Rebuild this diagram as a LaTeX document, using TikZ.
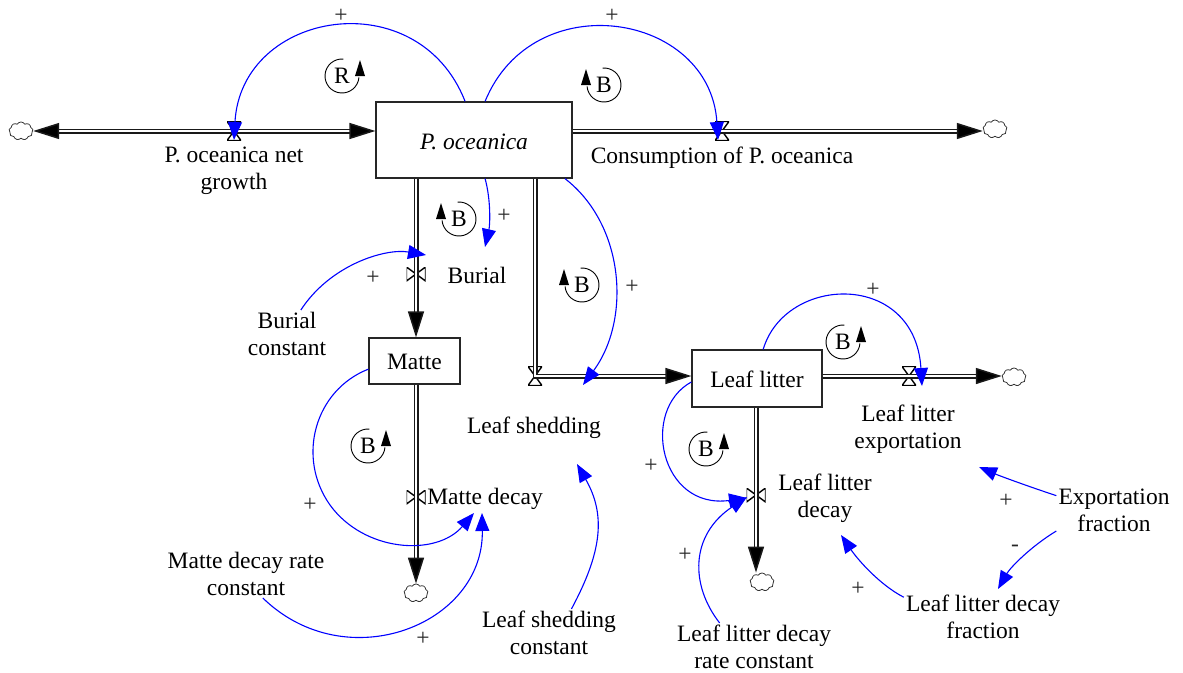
\documentclass[tikz,border=0pt]{standalone}
\usepackage{fontspec}
\setmainfont{Liberation Serif}
\usetikzlibrary{shapes,arrows.meta,positioning}
\definecolor{linkblue}{RGB}{0,0,255}
\tikzstyle{stock} = [draw=black!85, line width=1.2pt, rectangle, inner sep=0pt, text height=18pt]
\tikzstyle{label} = [align=center, inner sep=2pt]
\tikzstyle{sign} = [inner sep=0pt, text=black!85]
\tikzstyle{source} = [draw=black!80, fill=white, thick, shape=cloud, cloud puffs=9, cloud puff arc=120, cloud ignores aspect, inner sep=0pt, minimum width=24pt, minimum height=18pt]
\tikzstyle{flow} = [double=white, double distance=2pt, line width=1.5pt, draw=black!90, >={Triangle[length=26pt,width=16pt,fill=black]}]
\tikzstyle{link} = [draw=linkblue, line width=1.1pt, -{Triangle[length=18pt,width=14pt,fill=linkblue]}]
\tikzstyle{valveh} = [inner sep=0pt, minimum width=19pt, minimum height=14pt, path picture={\draw[line width=1.4pt] (path picture bounding box.north west) -- (path picture bounding box.south east) -- (path picture bounding box.north east) -- (path picture bounding box.south west) -- cycle;}]
\tikzstyle{valvev} = [inner sep=0pt, minimum width=14pt, minimum height=19pt, path picture={\draw[line width=1.4pt] (path picture bounding box.north west) -- (path picture bounding box.north east) -- (path picture bounding box.south west) -- (path picture bounding box.south east) -- cycle;}]
\tikzstyle{loopletter} = [inner sep=0pt]
\newcommand{\rightloop}[4]{%
	\node[loopletter] (#1) at (#2,#3) {#4};
	\draw[line width=0.9pt] ([shift={(85:17pt)}]#1.center) arc[start angle=85,end angle=355,radius=17pt];
	\fill ([shift={(13pt,0pt)}]#1.center) -- ([shift={(18pt,16pt)}]#1.center) -- ([shift={(23pt,0pt)}]#1.center) -- cycle;
}
\newcommand{\leftloop}[4]{%
	\node[loopletter] (#1) at (#2,#3) {#4};
	\draw[line width=0.9pt] ([shift={(95:17pt)}]#1.center) arc[start angle=95,end angle=-175,radius=17pt];
	\fill ([shift={(-13pt,0pt)}]#1.center) -- ([shift={(-18pt,16pt)}]#1.center) -- ([shift={(-23pt,0pt)}]#1.center) -- cycle;
}
\begin{document}
\begin{tikzpicture}[x=1pt,y=-1pt,font=\fontsize{23.5}{27}\selectfont]
	\useasboundingbox (0,0) rectangle (1183,672);
	% stocks
	\node[stock, text height=20pt, minimum width=196pt, minimum height=76pt] (oceanica) at (474,140) {\textit{P. oceanica}};
	\node[stock, minimum width=91pt, minimum height=46pt] (matte) at (414.5,361) {Matte};
	\node[stock, minimum width=130pt, minimum height=57pt] (litter) at (757,378.5) {Leaf litter};
	% clouds
	\node[source] (growthcloud) at (21,131) {};
	\node[source] (consumecloud) at (995,129) {};
	\node[source] (mattecloud) at (416,593) {};
	\node[source] (decaycloud) at (762,582) {};
	\node[source] (exportcloud) at (1014,377) {};
	% valves
	\node[valvev] (growthvalve) at (234,131) {};
	\node[valvev] (consumevalve) at (722,131) {};
	\node[valveh] (burialvalve) at (416,274) {};
	\node[valveh] (mattevalve) at (416,497) {};
	\node[valvev] (shedvalve) at (535,376) {};
	\node[valvev] (exportvalve) at (909,376) {};
	\node[valveh] (decayvalve) at (756,495) {};
	% flows
	\draw[flow,<->] (growthcloud.east |- growthvalve) -- (oceanica.west |- growthvalve);
	\draw[flow,->] (oceanica.east |- consumevalve) -- (consumecloud.west |- consumevalve);
	\draw[flow,->] (burialvalve |- oceanica.south) -- (burialvalve |- matte.north);
	\draw[flow,->] (mattevalve |- matte.south) -- (mattevalve |- mattecloud.north);
	\draw[flow,->] (shedvalve |- oceanica.south) -- (shedvalve.center) -- (litter.west |- shedvalve);
	\draw[flow,->] (litter.east |- exportvalve) -- (exportcloud.west |- exportvalve);
	\draw[flow,->] (decayvalve |- litter.south) -- (decayvalve |- decaycloud.north);
	% labels
	\node[label] (growth) at (234,171) {P. oceanica net\\growth};
	\node[label] (consumption) at (722,158) {Consumption of P. oceanica};
	\node[label] (burial) at (477,275) {Burial};
	\node[label] (burialconst) at (287,334) {Burial\\constant};
	\node[label] (mattedecay) at (485,499) {Matte decay};
	\node[label] (matteconst) at (246,574) {Matte decay rate\\constant};
	\node[label] (shedding) at (534,428) {Leaf shedding};
	\node[label] (shedconst) at (549,633) {Leaf shedding\\constant};
	\node[label] (exportation) at (908,429) {Leaf litter\\exportation};
	\node[label] (litterdecay) at (825,498) {Leaf litter\\decay};
	\node[label] (exportfrac) at (1114,510) {Exportation\\fraction};
	\node[label] (decayfrac) at (983,617) {Leaf litter decay\\fraction};
	\node[label] (decayconst) at (754,647) {Leaf litter decay\\rate constant};
	% free ends of the links
	\coordinate (growthin) at (234,140);
	\coordinate (consumein) at (718,140);
	\coordinate (burialin) at (485,247);
	\coordinate (shedin) at (583,385);
	\coordinate (burialvalvein) at (426,255);
	\coordinate (mattein) at (474,513);
	\coordinate (matteconstin) at (482,513);
	\coordinate (exportin) at (922,386);
	\coordinate (decayin) at (747,498);
	\coordinate (decayconstin) at (747,497);
	\coordinate (exportfracin) at (979,467);
	\coordinate (decayfracin) at (998,589);
	\coordinate (litterdecayin) at (841,535);
	\coordinate (shedconstin) at (577,464);
	% links
	\draw[link] (oceanica.103) .. controls (418,-19) and (241,10) .. (growthin);
	\draw[link] (oceanica.74) .. controls (533,-16) and (710,12) .. (consumein);
	\draw[link] (oceanica.-74) .. controls (491,200) and (490,225) .. (burialin);
	\draw[link] (oceanica.-23) .. controls (625,225) and (631,320) .. (shedin);
	\draw[link] (burialconst.60) .. controls (330,265) and (385,248) .. (burialvalvein);
	\draw[link] (matte.190) .. controls (315,390) and (296,457) .. (330,505) .. controls (364,552) and (436,557) .. (mattein);
	\draw[link] (matteconst.-55) .. controls (346,679) and (484,625) .. (matteconstin);
	\draw[link] (litter.78) .. controls (785,275) and (915,270) .. (exportin);
	\draw[link] (litter.183) .. controls (640,410) and (660,510) .. (decayin);
	\draw[link] (decayconst.145) .. controls (690,585) and (690,535) .. (decayconstin);
	\draw[link] (exportfrac.166) .. controls (1030,487) and (1000,476) .. (exportfracin);
	\draw[link] (exportfrac.200) .. controls (1030,547) and (1010,568) .. (decayfracin);
	\draw[link] (decayfrac.166) .. controls (880,585) and (858,560) .. (litterdecayin);
	\draw[link] (shedconst.47) .. controls (602,552) and (606,515) .. (shedconstin);
	% loops
	\rightloop{loopa}{342}{76}{R}
	\leftloop{loopb}{604}{85}{B}
	\leftloop{loopc}{459}{219}{B}
	\leftloop{loopd}{582}{285}{B}
	\rightloop{loope}{843}{342}{B}
	\rightloop{loopf}{706}{449}{B}
	\rightloop{loopg}{368}{446}{B}
	% signs
	\node[sign] (signa) at (341,16) {+};
	\node[sign] (signb) at (612,16) {+};
	\node[sign] (signc) at (504,216) {+};
	\node[sign] (signd) at (373,278) {+};
	\node[sign] (signe) at (632,287) {+};
	\node[sign] (signf) at (873,290) {+};
	\node[sign] (signg) at (651,466) {+};
	\node[sign] (signh) at (310,505) {+};
	\node[sign] (signi) at (423,639) {+};
	\node[sign] (signj) at (685,555) {+};
	\node[sign] (signk) at (858,589) {+};
	\node[sign] (signl) at (1006,501) {+};
	\node[sign] (signm) at (1015,548) {-};
\end{tikzpicture}
\end{document}
